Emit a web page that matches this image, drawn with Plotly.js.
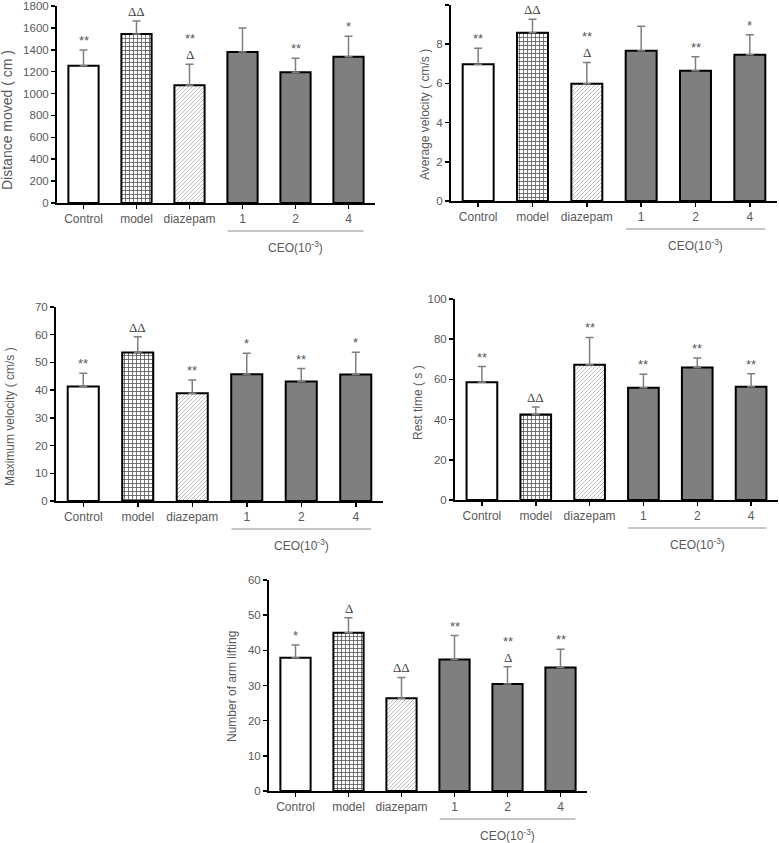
<!DOCTYPE html>
<html>
<head>
<meta charset="utf-8">
<script src="https://cdn.plot.ly/plotly-3.0.1.min.js"></script>
<style>
  html, body { margin: 0; padding: 0; background: #fff; }
  #chart { width: 779px; height: 843px; }
</style>
</head>
<body>
<div id="chart"></div>
<script>
// groups on the x axis (same for all five panels)
const groups = ['Control', 'model', 'diazepam', '1', '2', '4'];

// Distance moved (cm)
const distMean = [1255, 1544, 1075, 1380, 1194, 1337];
const distErr = [143, 119, 192, 219, 128, 186];
const distStars = ['**', '', '**', '', '**', '*'];
const distDelta = ['', 'ΔΔ', 'Δ', '', '', ''];

// Average velocity (cm/s)
const avgMean = [6.98, 8.59, 5.98, 7.67, 6.64, 7.46];
const avgErr = [0.81, 0.68, 1.09, 1.24, 0.72, 1.02];
const avgStars = ['**', '', '**', '', '**', '*'];
const avgDelta = ['', 'ΔΔ', 'Δ', '', '', ''];

// Maximum velocity (cm/s)
const maxMean = [41.3, 53.6, 38.9, 45.7, 43.1, 45.6];
const maxErr = [4.8, 5.7, 4.8, 7.6, 4.7, 8.1];
const maxStars = ['**', '', '**', '*', '**', '*'];
const maxDelta = ['', 'ΔΔ', '', '', '', ''];

// Rest time (s)
const restMean = [58.6, 42.5, 67.3, 55.8, 65.9, 56.3];
const restErr = [7.8, 3.8, 13.6, 6.7, 4.7, 6.5];
const restStars = ['**', '', '**', '**', '**', '**'];
const restDelta = ['', 'ΔΔ', '', '', '', ''];

// Number of arm lifting
const armMean = [37.9, 45.0, 26.4, 37.4, 30.4, 35.1];
const armErr = [3.6, 4.3, 5.9, 6.8, 4.9, 5.2];
const armStars = ['*', '', '', '**', '**', '**'];
const armDelta = ['', 'Δ', 'ΔΔ', '', 'Δ', ''];

const W = 779, H = 843;
const px = x => x / W;
const py = y => 1 - y / H;
const txtColor = '#595959';
const sans = 'Liberation Sans, Arial, sans-serif';
const serif = 'Liberation Serif, Times New Roman, serif';

// plot areas in pixels + axis settings
const panels = [
  { mean: distMean, err: distErr, stars: distStars, delta: distDelta,
    title: 'Distance moved ( cm )', tsize: 14, range: [0, 1800], dtick: 200,
    x0: 57, x1: 375, y0: 6, y1: 203, tx: 7, ty: 120 },
  { mean: avgMean, err: avgErr, stars: avgStars, delta: avgDelta,
    title: 'Average velocity ( cm/s )', tsize: 12, range: [0, 10], dtick: 2,
    x0: 451, x1: 777, y0: 5, y1: 201, tx: 425, ty: 115 },
  { mean: maxMean, err: maxErr, stars: maxStars, delta: maxDelta,
    title: 'Maximum velocity ( cm/s )', tsize: 12, range: [0, 70], dtick: 10,
    x0: 56, x1: 383, y0: 307, y1: 501, tx: 10, ty: 417 },
  { mean: restMean, err: restErr, stars: restStars, delta: restDelta,
    title: 'Rest time ( s )', tsize: 12, range: [0, 100], dtick: 20,
    x0: 455, x1: 778, y0: 299, y1: 500, tx: 418, ty: 403 },
  { mean: armMean, err: armErr, stars: armStars, delta: armDelta,
    title: 'Number of arm lifting', tsize: 12, range: [0, 60], dtick: 10,
    x0: 269, x1: 587, y0: 580, y1: 791, tx: 232, ty: 687 }
];

// fallback tones; model and diazepam get hatch fills after drawing
const barColors = ['#ffffff', '#bdbdbd', '#e2e2e2', '#7f7f7f', '#7f7f7f', '#7f7f7f'];
const hatch = [null, 'gridfill', 'diagfill', null, null, null];

const data = [];
const layout = {
  width: W, height: H,
  margin: { l: 0, r: 0, t: 0, b: 0 },
  paper_bgcolor: 'white',
  plot_bgcolor: 'rgba(0,0,0,0)',
  showlegend: false,
  bargap: 0.43,
  font: { family: sans, color: txtColor, size: 12 },
  annotations: [],
  shapes: []
};

panels.forEach((p, i) => {
  const n = i === 0 ? '' : String(i + 1);
  const xa = 'x' + n, ya = 'y' + n;

  data.push({
    type: 'bar',
    x: groups,
    y: p.mean,
    xaxis: xa, yaxis: ya,
    marker: {
      color: barColors,
      line: { color: '#000', width: 2 }
    },
    error_y: {
      type: 'data', symmetric: false,
      array: p.err, arrayminus: p.err.map(() => 0),
      color: '#7f7f7f', thickness: 1.5, width: 4
    },
    hoverinfo: 'skip'
  });

  layout['xaxis' + n] = {
    domain: [px(p.x0), px(p.x1)],
    anchor: ya,
    type: 'category',
    range: [-0.5, 5.5],
    showline: true, linecolor: '#000', linewidth: 2,
    ticks: 'outside', ticklen: 4, tickwidth: 1.5, tickcolor: '#000',
    tickfont: { size: 12, color: txtColor },
    showgrid: false, zeroline: false, fixedrange: true
  };
  layout['yaxis' + n] = {
    domain: [py(p.y1), py(p.y0)],
    anchor: xa,
    range: p.range, dtick: p.dtick,
    showline: true, linecolor: '#000', linewidth: 2,
    ticks: 'outside', ticklen: 4, tickwidth: 1.5, tickcolor: '#000',
    tickfont: { size: 11.5, color: txtColor },
    showgrid: false, zeroline: false, fixedrange: true
  };

  // y axis title
  layout.annotations.push({
    xref: 'paper', yref: 'paper', x: px(p.tx), y: py(p.ty),
    text: p.title, textangle: -90, showarrow: false,
    font: { size: p.tsize, color: txtColor }, xanchor: 'center', yanchor: 'middle'
  });

  // significance marks above error bars (x given as category index)
  groups.forEach((g, k) => {
    const top = p.mean[k] + p.err[k];
    if (p.delta[k]) {
      layout.annotations.push({
        xref: xa, yref: ya, x: k, y: top, yanchor: 'bottom',
        yshift: 0, showarrow: false, text: p.delta[k],
        font: { family: serif, size: 13, color: '#404040' }
      });
    }
    if (p.stars[k]) {
      layout.annotations.push({
        xref: xa, yref: ya, x: k, y: top, yanchor: 'bottom',
        yshift: p.delta[k] ? 16 : 0, showarrow: false, text: p.stars[k],
        font: { family: sans, size: 13, color: txtColor }
      });
    }
  });

  // CEO group bracket under doses
  layout.shapes.push({
    type: 'line', xref: xa, yref: 'paper',
    x0: 2.72, x1: 5.28, y0: py(p.y1 + 28), y1: py(p.y1 + 28),
    line: { color: '#8c8c8c', width: 1 }
  });
  layout.annotations.push({
    xref: xa, yref: 'paper', x: 4, y: py(p.y1 + 44),
    text: 'CEO(10<sup>-3</sup>)', showarrow: false,
    xanchor: 'center', yanchor: 'middle',
    font: { size: 12, color: txtColor }
  });
});

Plotly.newPlot('chart', data, layout, { displayModeBar: false, staticPlot: true })
  .then(gd => {
    // add the hatch patterns to the svg and fill the model / diazepam bars with them
    const svg = gd.querySelector('svg.main-svg');
    const ns = 'http://www.w3.org/2000/svg';
    const defs = document.createElementNS(ns, 'defs');
    defs.innerHTML =
      '<pattern id="gridfill" patternUnits="userSpaceOnUse" width="4" height="4">' +
        '<rect width="4" height="4" fill="#ffffff"/>' +
        '<path d="M0,0.5H4M0.5,0V4" stroke="#555555" stroke-width="0.8" fill="none"/>' +
      '</pattern>' +
      '<pattern id="diagfill" patternUnits="userSpaceOnUse" width="4" height="4">' +
        '<rect width="4" height="4" fill="#ffffff"/>' +
        '<path d="M-1,1L1,-1M0,4L4,0M3,5L5,3" stroke="#b4b4b4" stroke-width="0.9" fill="none"/>' +
      '</pattern>';
    svg.insertBefore(defs, svg.firstChild);
    gd.querySelectorAll('.barlayer .trace').forEach(tr => {
      tr.querySelectorAll('.point path').forEach((path, k) => {
        if (hatch[k]) path.style.fill = 'url(#' + hatch[k] + ') ' + barColors[k];
      });
    });
  });
</script>
</body>
</html>
